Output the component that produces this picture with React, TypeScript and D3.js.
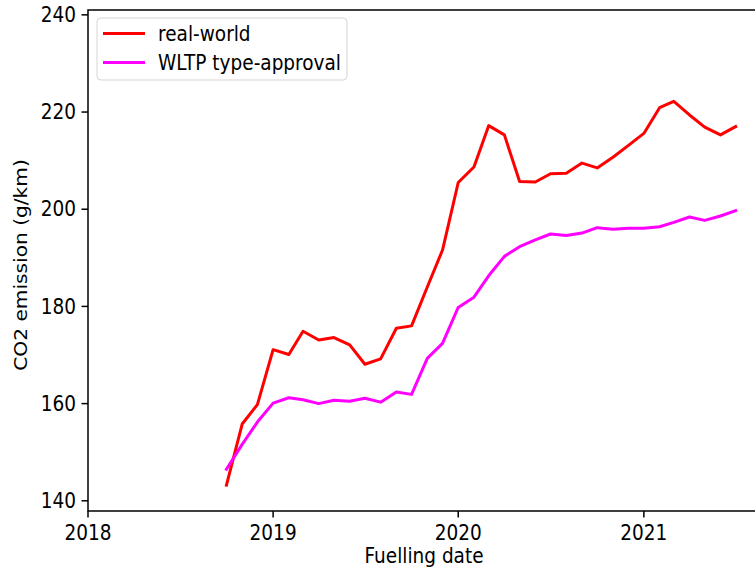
import React from 'react';
import * as d3 from 'd3';

const months = [
  '2018-10-01', '2018-11-01', '2018-12-01',
  '2019-01-01', '2019-02-01', '2019-03-01', '2019-04-01', '2019-05-01', '2019-06-01',
  '2019-07-01', '2019-08-01', '2019-09-01', '2019-10-01', '2019-11-01', '2019-12-01',
  '2020-01-01', '2020-02-01', '2020-03-01', '2020-04-01', '2020-05-01', '2020-06-01',
  '2020-07-01', '2020-08-01', '2020-09-01', '2020-10-01', '2020-11-01', '2020-12-01',
  '2021-01-01', '2021-02-01', '2021-03-01', '2021-04-01', '2021-05-01', '2021-06-01',
  '2021-07-01',
];

const realWorld = [
  143.2, 155.8, 159.8,
  171.1, 170.1, 174.9, 173.1, 173.6, 172.1,
  168.1, 169.2, 175.5, 176.0, 184.0, 191.6,
  205.5, 208.7, 217.2, 215.3, 205.7, 205.6,
  207.3, 207.4, 209.5, 208.5, 210.7, 213.1,
  215.6, 220.9, 222.2, 219.4, 216.9, 215.3,
  217.0,
];

const wltp = [
  146.5, 151.6, 156.2,
  160.1, 161.2, 160.8, 160.0, 160.7, 160.5,
  161.1, 160.3, 162.4, 161.9, 169.3, 172.4,
  179.8, 181.9, 186.3, 190.3, 192.3, 193.7,
  194.9, 194.6, 195.1, 196.2, 195.9, 196.1,
  196.1, 196.4, 197.3, 198.4, 197.7, 198.6,
  199.7,
];

const yTicks = [140, 160, 180, 200, 220, 240];
const xTicks = ['2018-01-01', '2019-01-01', '2020-01-01', '2021-01-01'];
const xDomain = ['2018-01-01', '2021-08-18'];
const yDomain = [137.9, 241.0];

const series = [
  { name: 'real-world', color: '#ff0000', values: realWorld },
  { name: 'WLTP type-approval', color: '#ff00ff', values: wltp },
];

const W = 755;
const H = 573;
const left = 88;
const right = 760;
const top = 10;
const bottom = 511;
const FONT = 'DejaVu Sans, sans-serif';
const FS = 18.5;
const SY = 1.12;

export default function App() {
  const parse = d3.utcParse('%Y-%m-%d');
  const x = d3.scaleUtc().domain(xDomain.map((d) => parse(d) as Date)).range([left, right]);
  const y = d3.scaleLinear().domain(yDomain).range([bottom, top]);

  const dates = months.map((m) => parse(m) as Date);
  const line = d3
    .line<number>()
    .x((_, i) => x(dates[i]))
    .y((v) => y(v));

  return (
    <svg
      width={W}
      height={H}
      style={{ position: 'absolute', left: 0, top: 0, background: '#fff' }}
      fontFamily={FONT}
    >
      <rect x={0} y={0} width={W} height={H} fill="#fff" />
      <defs>
        <clipPath id="plotclip">
          <rect x={left} y={top} width={right - left} height={bottom - top} />
        </clipPath>
      </defs>

      <g clipPath="url(#plotclip)">
        {series.map((s) => (
          <path
            key={s.name}
            d={line(s.values) || ''}
            fill="none"
            stroke={s.color}
            strokeWidth={3}
            strokeLinejoin="round"
            strokeLinecap="square"
          />
        ))}
      </g>

      {/* spines */}
      <rect x={left} y={top} width={right - left} height={bottom - top} fill="none" stroke="#000" strokeWidth={1.5} />

      {/* y ticks */}
      {yTicks.map((t) => (
        <g key={t}>
          <line x1={left - 6.5} x2={left} y1={y(t)} y2={y(t)} stroke="#000" strokeWidth={1.5} />
          <text
            transform={`translate(${left - 12}, ${y(t)}) scale(1, ${SY})`}
            dy="0.35em"
            textAnchor="end"
            fontSize={FS}
            fill="#000"
          >
            {t}
          </text>
        </g>
      ))}

      {/* x ticks */}
      {xTicks.map((t) => {
        const d = parse(t) as Date;
        return (
          <g key={t}>
            <line x1={x(d)} x2={x(d)} y1={bottom} y2={bottom + 6.5} stroke="#000" strokeWidth={1.5} />
            <text
              transform={`translate(${x(d)}, 540) scale(1, ${SY})`}
              textAnchor="middle"
              fontSize={FS}
              fill="#000"
            >
              {d3.utcFormat('%Y')(d)}
            </text>
          </g>
        );
      })}

      {/* axis labels */}
      <text
        transform={`translate(${(left + right) / 2}, 563) scale(1, ${SY})`}
        textAnchor="middle"
        fontSize={FS}
        fill="#000"
      >
        Fuelling date
      </text>
      <text
        transform={`translate(27, 265) scale(1, 1.09) rotate(-90)`}
        textAnchor="middle"
        fontSize={FS}
        fill="#000"
      >
        CO2 emission (g/km)
      </text>

      {/* legend */}
      <g>
        <rect x={97} y={18} width={250} height={62} rx={4} fill="#fff" fillOpacity={0.8} stroke="#d4d4d4" strokeWidth={1} />
        {series.map((s, i) => (
          <g key={s.name} transform={`translate(0, ${33.5 + i * 29})`}>
            <line x1={103} x2={145} y1={0} y2={0} stroke={s.color} strokeWidth={3} />
            <text
              transform={`translate(158, 0) scale(1, ${SY})`}
              dy="0.35em"
              fontSize={FS}
              fill="#000"
            >
              {s.name}
            </text>
          </g>
        ))}
      </g>
    </svg>
  );
}
